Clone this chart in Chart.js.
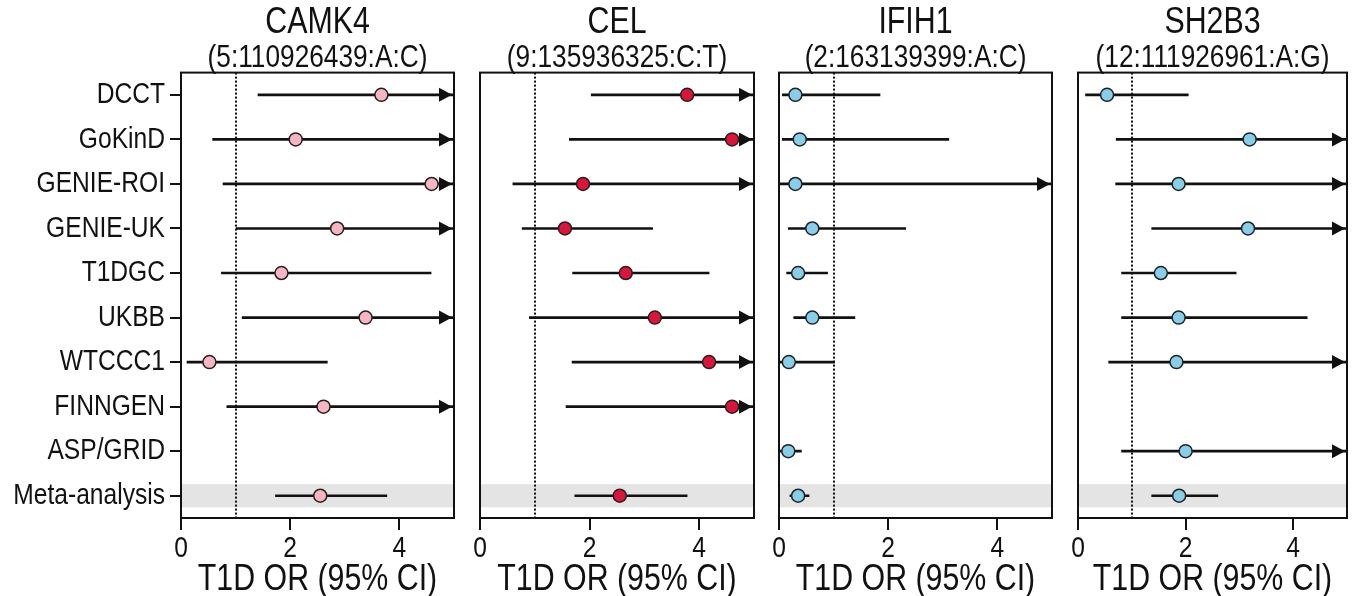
<!DOCTYPE html>
<html>
<head>
<meta charset="utf-8">
<script src="https://cdn.jsdelivr.net/npm/chart.js@4.4.1/dist/chart.umd.min.js"></script>
<style>
  html, body { margin: 0; padding: 0; background: #fff; }
  #wrap { position: relative; width: 1355px; height: 596px; overflow: hidden; }
  canvas { position: absolute; top: 0; }
</style>
</head>
<body>
<div id="wrap">
  <canvas id="p0" width="462" height="596" style="left:0px"></canvas>
  <canvas id="p1" width="300" height="596" style="left:462px"></canvas>
  <canvas id="p2" width="298" height="596" style="left:762px"></canvas>
  <canvas id="p3" width="295" height="596" style="left:1060px"></canvas>
</div>
<script>
// Forest plot data: odds ratio and 95% CI per study, per gene.
// hi = Infinity means the upper bound runs off the axis (drawn as an arrow).
const STUDIES = ['DCCT', 'GoKinD', 'GENIE-ROI', 'GENIE-UK', 'T1DGC', 'UKBB', 'WTCCC1', 'FINNGEN', 'ASP/GRID', 'Meta-analysis'];
const X_TICKS = [0, 2, 4];
const X_MAX = 5;
const NULL_OR = 1;
const INF = Infinity;

const GENES = ['CAMK4', 'CEL', 'IFIH1', 'SH2B3'];
const VARIANTS = ['(5:110926439:A:C)', '(9:135936325:C:T)', '(2:163139399:A:C)', '(12:111926961:A:G)'];
const COLORS = ['#f8b5c1', '#dc1439', '#87ceeb', '#87ceeb'];

const CAMK4_OR = [3.67, 2.10, 4.59, 2.86, 1.84, 3.38, 0.52, 2.61, null, 2.55];
const CAMK4_LO = [1.41, 0.58, 0.77, 1.01, 0.74, 1.12, 0.11, 0.84, null, 1.73];
const CAMK4_HI = [INF, INF, INF, INF, 4.58, INF, 2.68, INF, null, 3.77];

const CEL_OR = [3.78, 4.60, 1.88, 1.55, 2.66, 3.19, 4.18, 4.60, null, 2.55];
const CEL_LO = [2.03, 1.63, 0.60, 0.77, 1.69, 0.90, 1.68, 1.57, null, 1.73];
const CEL_HI = [INF, INF, INF, 3.15, 4.18, INF, INF, INF, null, 3.78];

const IFIH1_OR = [0.30, 0.38, 0.30, 0.61, 0.35, 0.61, 0.18, null, 0.17, 0.35];
const IFIH1_LO = [0.06, 0.06, 0.00, 0.17, 0.14, 0.27, 0.00, null, 0.00, 0.20];
const IFIH1_HI = [1.85, 3.11, INF, 2.32, 0.89, 1.39, 1.02, null, 0.41, 0.55];

const SH2B3_OR = [0.54, 3.19, 1.87, 3.16, 1.54, 1.87, 1.83, null, 2.00, 1.88];
const SH2B3_LO = [0.14, 0.71, 0.70, 1.37, 0.81, 0.81, 0.57, null, 0.81, 1.37];
const SH2B3_HI = [2.05, INF, INF, INF, 2.94, 4.26, INF, null, INF, 2.60];

const ORS = [CAMK4_OR, CEL_OR, IFIH1_OR, SH2B3_OR];
const LOS = [CAMK4_LO, CEL_LO, IFIH1_LO, SH2B3_LO];
const HIS = [CAMK4_HI, CEL_HI, IFIH1_HI, SH2B3_HI];

const FONT = '"Liberation Sans", Arial, sans-serif';
const INK = '#111';
// the figure uses a narrow Helvetica; no narrow face is installed, so squeeze the text
const SQUEEZE = 0.82;

// canvas layout: left padding / right padding so plot frames line up with the figure
const PAD = [{ left: 0, right: 7 }, { left: 18, right: 7 }, { left: 17, right: 7 }, { left: 18, right: 3 }];

function narrowText(ctx) {
  const fill = ctx.fillText.bind(ctx);
  const measure = ctx.measureText.bind(ctx);
  ctx.fillText = (t, x, y) => {
    ctx.save();
    ctx.translate(x, y);
    ctx.scale(SQUEEZE, 1);
    fill(t, 0, 0);
    ctx.restore();
  };
  ctx.measureText = t => {
    const m = measure(t);
    return {
      width: m.width * SQUEEZE,
      actualBoundingBoxAscent: m.actualBoundingBoxAscent,
      actualBoundingBoxDescent: m.actualBoundingBoxDescent,
      actualBoundingBoxLeft: m.actualBoundingBoxLeft * SQUEEZE,
      actualBoundingBoxRight: m.actualBoundingBoxRight * SQUEEZE
    };
  };
}

// band behind meta-analysis, reference line at OR = 1, arrows, frame
const forestPlugin = {
  id: 'forest',
  beforeDatasetsDraw(chart) {
    const { ctx, chartArea: a, scales: { x, y } } = chart;
    const hi = HIS[chart.options.plugins.forest.panel];
    const rowH = y.height / STUDIES.length;
    ctx.save();
    const ym = y.getPixelForValue(STUDIES.indexOf('Meta-analysis'));
    ctx.fillStyle = '#e4e4e4';
    ctx.fillRect(a.left, ym - rowH * 0.26, a.width, rowH * 0.52);

    const xr = Math.round(x.getPixelForValue(NULL_OR));
    ctx.strokeStyle = INK;
    ctx.lineWidth = 2;
    ctx.setLineDash([2, 2]);
    ctx.beginPath();
    ctx.moveTo(xr, a.top);
    ctx.lineTo(xr, a.bottom);
    ctx.stroke();
    ctx.setLineDash([]);

    // arrow heads for CIs running past the axis
    const tip = x.getPixelForValue(X_MAX) - 2;
    ctx.fillStyle = INK;
    hi.forEach((v, i) => {
      if (v !== INF) return;
      const yy = y.getPixelForValue(i);
      ctx.beginPath();
      ctx.moveTo(tip, yy);
      ctx.lineTo(tip - 13, yy - 7);
      ctx.lineTo(tip - 13, yy + 7);
      ctx.closePath();
      ctx.fill();
    });
    ctx.restore();
  },
  afterDraw(chart) {
    const { ctx, chartArea: a } = chart;
    ctx.save();
    ctx.strokeStyle = INK;
    ctx.lineWidth = 2;
    ctx.strokeRect(a.left, a.top, a.width, a.height);
    ctx.restore();
  }
};

function makePanel(p) {
  const ctx = document.getElementById('p' + p).getContext('2d');
  narrowText(ctx);
  const or = ORS[p], lo = LOS[p], hi = HIS[p];
  const first = p === 0;

  const points = STUDIES.map((s, i) => ({ x: or[i], y: s })).filter(d => d.x !== null);
  const whiskers = STUDIES.map((s, i) => lo[i] === null ? null : [lo[i], Math.min(hi[i], X_MAX)]);

  return new Chart(ctx, {
    type: 'bar',
    data: {
      labels: STUDIES,
      datasets: [
        {
          type: 'scatter',
          label: 'OR',
          data: points,
          order: 0,
          pointRadius: 6.5,
          pointBackgroundColor: COLORS[p],
          pointBorderColor: '#222',
          pointBorderWidth: 1.5,
          clip: false
        },
        {
          type: 'bar',
          label: '95% CI',
          data: whiskers,
          order: 1,
          backgroundColor: INK,
          barThickness: 2,
          borderSkipped: false
        }
      ]
    },
    plugins: [forestPlugin],
    options: {
      responsive: false,
      animation: false,
      indexAxis: 'y',
      layout: { padding: { left: PAD[p].left, right: PAD[p].right, top: 0, bottom: 0 } },
      plugins: {
        legend: { display: false },
        tooltip: { enabled: false },
        forest: { panel: p },
        title: {
          display: true, text: GENES[p], color: INK, fullSize: false,
          font: { family: FONT, size: 37, weight: 'normal', lineHeight: 1.0 },
          padding: { top: 4, bottom: 4 }
        },
        subtitle: {
          display: true, text: VARIANTS[p], color: INK, fullSize: false,
          font: { family: FONT, size: 32, weight: 'normal', lineHeight: 0.8 },
          padding: { top: 0, bottom: 2 }
        }
      },
      scales: {
        x: {
          type: 'linear', min: 0, max: X_MAX,
          afterBuildTicks: s => { s.ticks = X_TICKS.map(v => ({ value: v })); },
          afterFit: s => { s.height = 78; },
          grid: { display: true, drawOnChartArea: false, drawTicks: true, tickLength: 12, color: INK, lineWidth: 2 },
          border: { display: false },
          ticks: { color: INK, font: { family: FONT, size: 30 }, padding: 1, maxRotation: 0 },
          title: { display: true, text: 'T1D OR (95% CI)', color: INK, font: { family: FONT, size: 37, lineHeight: 0.85 }, padding: { top: 0, bottom: 0 } }
        },
        y: {
          type: 'category', labels: STUDIES, offset: true, display: first,
          afterFit: s => { if (first) s.width = 181; },
          grid: { display: true, offset: false, drawOnChartArea: false, drawTicks: true, tickLength: 11, color: INK, lineWidth: 2 },
          border: { display: false },
          ticks: { color: INK, font: { family: FONT, size: 30 }, padding: 5 }
        }
      }
    }
  });
}

GENES.forEach((g, p) => makePanel(p));
</script>
</body>
</html>
